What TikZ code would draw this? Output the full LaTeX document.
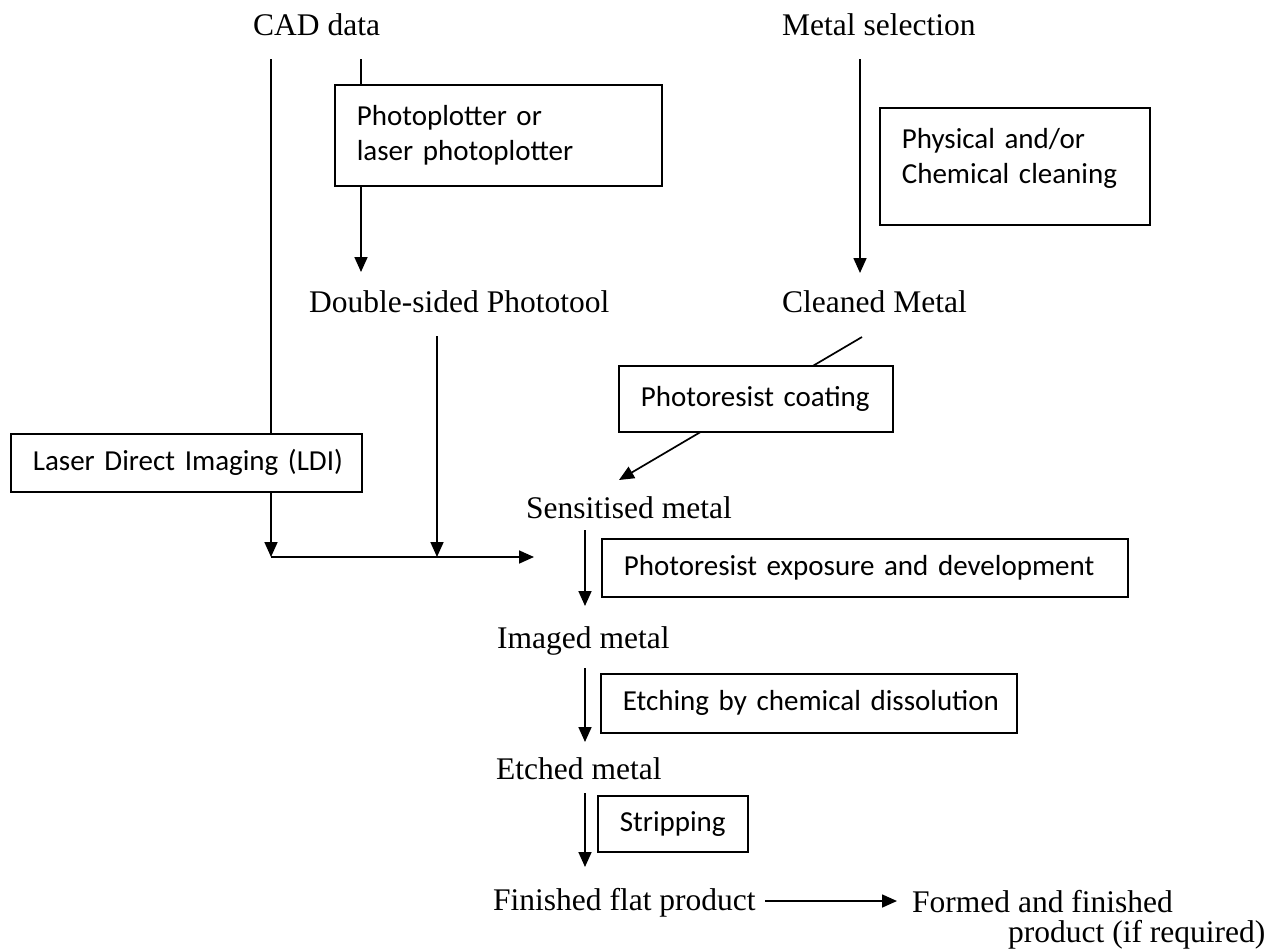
\documentclass[tikz,border=0pt]{standalone}
\usepackage{fontspec}
\setmainfont{Liberation Serif}
\newfontfamily\boxfont{Carlito}
\usetikzlibrary{arrows.meta}
\begin{document}
\begin{tikzpicture}[x=1pt,y=-1pt,
  lbl/.style={inner sep=0pt, anchor=base west, font=\fontsize{31.5}{31}\selectfont},
  pbox/.style={draw, line width=1.7pt, fill=white, anchor=north west, align=left,
    inner xsep=22pt, inner ysep=0pt, font=\boxfont\fontsize{29}{35}\selectfont},
  conn/.style={line width=1.7pt},
  arr/.style={conn, -{Triangle[length=15pt,width=13pt]}}]
\useasboundingbox (0,0) rectangle (1274,951);

% text labels
\node[lbl] (cad) at (253,35) {CAD data};
\node[lbl] (metal) at (782,35) {Metal selection};
\node[lbl] (dsp) at (309,312) {Double-sided Phototool};
\node[lbl] (clean) at (782,312) {Cleaned Metal};
\node[lbl] (sens) at (526,518) {Sensitised metal};
\node[lbl] (imaged) at (497,648) {Imaged metal};
\node[lbl] (etched) at (496,779) {Etched metal};
\node[lbl] (flat) at (493,910) {Finished flat product};
\node[lbl] (formed) at (912,912) {Formed and finished};
\node[lbl] (formedb) at (1008,942) {product (if required)};

% coordinates
\coordinate (c1a) at (271,59);
\coordinate (c2a) at (361,59);
\coordinate (ppend) at (361,272);
\coordinate (j1) at (271,557);
\coordinate (j2) at (437,557);
\coordinate (jend) at (534,557);
\coordinate (d1) at (437,336);
\coordinate (m1) at (860,59);
\coordinate (m2) at (860,273);
\coordinate (cl1) at (862,337);
\coordinate (se1) at (619,480);
\coordinate (s1) at (585,530);
\coordinate (s2) at (585,606);
\coordinate (i1) at (585,668);
\coordinate (i2) at (585,742);
\coordinate (e1) at (585,793);
\coordinate (e2) at (585,867);
\coordinate (f1) at (765,901);
\coordinate (f2) at (897,901);

% boxes
\node[pbox, text width=283pt, minimum height=101pt] (pp) at (334,84)
  {Photoplotter or\\laser photoplotter};
\node[pbox, text width=226pt, minimum height=117pt] (phys) at (879,107)
  {Physical and/or\\Chemical cleaning\rule[-21pt]{0pt}{21pt}};
\node[pbox, text width=307pt, minimum height=58pt] (ldi) at (10,433)
  {\mbox{Laser Direct Imaging (LDI)}};

% CAD branches
\draw[conn] (c1a) -- (c1a |- ldi.north);
\draw[arr] (c1a |- ldi.south) -- (j1);
\draw[conn] (c2a) -- (c2a |- pp.north);
\draw[arr] (c2a |- pp.south) -- (ppend);
\draw[arr] (d1) -- (j2);
\draw[arr] (j1) -- (jend);

% metal branch
\draw[arr] (m1) -- (m2);
\draw[arr] (cl1) -- (se1);
\node[pbox, text width=230pt, minimum height=66pt] (coat) at (618,365)
  {\mbox{Photoresist coating}};

% main spine
\draw[arr] (s1) -- (s2);
\node[pbox, text width=482pt, minimum height=58pt] (expo) at (601,538)
  {\mbox{Photoresist exposure and development}};
\draw[arr] (i1) -- (i2);
\node[pbox, text width=372pt, minimum height=59pt] (etch) at (600,673)
  {\mbox{Etching by chemical dissolution}};
\draw[arr] (e1) -- (e2);
\node[pbox, text width=106pt, minimum height=56pt] (strip) at (597,795)
  {\mbox{Stripping}};
\draw[arr] (f1) -- (f2);
\end{tikzpicture}
\end{document}
